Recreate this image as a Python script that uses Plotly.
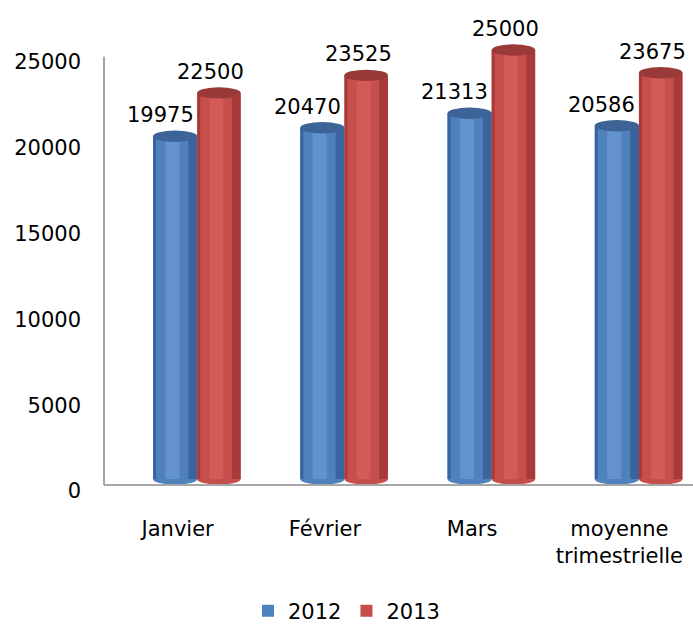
import plotly.graph_objects as go

categories = ["Janvier", "Février", "Mars", "moyenne<br>trimestrielle"]
series_names = ["2012", "2013"]
values_2012 = [19975, 20470, 21313, 20586]
values_2013 = [22500, 23525, 25000, 23675]
y_ticks = [0, 5000, 10000, 15000, 20000, 25000]
y_tick_labels = ["0", "5000", "10000", "15000", "20000", "25000"]

FONT = "DejaVu Sans"
FS = 21
AXIS_COL = "#A6A6A6"

series = [
    dict(name=series_names[0], vals=values_2012, offset=-0.167, width=0.30,
         edge="#3A64A0", mid="#4F81BD", light="#6492CE", top="#3C6496", lx=-15),
    dict(name=series_names[1], vals=values_2013, offset=0.133, width=0.295,
         edge="#A83B39", mid="#C64F4C", light="#D25B58", top="#9A3A38", lx=-8),
]

idx = list(range(len(categories)))
fig = go.Figure()
shapes = []
annotations = []
ell = 330  # half-height of the cylinder ellipses, in value units

for s in series:
    fig.add_trace(go.Bar(x=categories, y=s["vals"], name=s["name"], yaxis="y2",
                         offset=s["offset"], width=s["width"],
                         marker=dict(color=s["mid"], line=dict(width=0)),
                         legendgroup=s["name"], showlegend=True, hoverinfo="skip"))
    fig.add_trace(go.Bar(x=categories, y=s["vals"], yaxis="y2",
                         offset=s["offset"] + s["width"] * 0.80, width=s["width"] * 0.20,
                         marker=dict(color=s["edge"], line=dict(width=0)),
                         legendgroup=s["name"], showlegend=False, hoverinfo="skip"))
    fig.add_trace(go.Bar(x=categories, y=s["vals"], yaxis="y2",
                         offset=s["offset"] + s["width"] * 0.28, width=s["width"] * 0.32,
                         marker=dict(color=s["light"], line=dict(width=0)),
                         legendgroup=s["name"], showlegend=False, hoverinfo="skip"))
    fig.add_trace(go.Bar(x=categories, y=s["vals"], yaxis="y2",
                         offset=s["offset"], width=s["width"] * 0.07,
                         marker=dict(color=s["edge"], line=dict(width=0)),
                         legendgroup=s["name"], showlegend=False, hoverinfo="skip"))
    for i, v in zip(idx, s["vals"]):
        x0 = i + s["offset"]
        x1 = x0 + s["width"]
        shapes.append(dict(type="circle", xref="x", yref="y2", x0=x0, x1=x1,
                           y0=v - ell, y1=v + ell, fillcolor=s["top"],
                           line=dict(width=0), layer="above"))
        shapes.append(dict(type="circle", xref="x", yref="y2", x0=x0, x1=x1,
                           y0=-ell, y1=ell, fillcolor=s["mid"],
                           line=dict(width=0), layer="below"))
        annotations.append(dict(x=(x0 + x1) / 2, y=v, xref="x", yref="y2",
                                text=str(v), showarrow=False, yanchor="bottom",
                                xshift=s["lx"], yshift=7,
                                font=dict(family=FONT, size=FS, color="#000000")))

# value axis line and floor line (3D back wall look of the source)
shapes.append(dict(type="line", xref="paper", yref="y", x0=0, x1=0, y0=350, y1=25300,
                   line=dict(color=AXIS_COL, width=2)))
shapes.append(dict(type="line", xref="paper", yref="y", x0=0, x1=1, y0=350, y1=350,
                   line=dict(color=AXIS_COL, width=2)))

fig.update_layout(
    width=693, height=626,
    margin=dict(l=104, r=0, t=40, b=135),
    paper_bgcolor="white", plot_bgcolor="white",
    barmode="overlay",
    font=dict(family=FONT, size=FS, color="#000000"),
    xaxis=dict(type="category", range=[-0.5, 3.5], showline=False,
               ticks="", showgrid=False, ticklabelstandoff=23, zeroline=False,
               tickfont=dict(family=FONT, size=FS)),
    yaxis=dict(range=[0, 26282], tickvals=y_ticks, ticktext=y_tick_labels,
               showgrid=False, showline=False,
               zeroline=False, ticks="", ticklabelstandoff=22,
               tickfont=dict(family=FONT, size=FS)),
    yaxis2=dict(overlaying="y", range=[-700, 25582], visible=False),
    legend=dict(orientation="h", xref="container", yref="container", x=0.5, y=0.024,
                xanchor="center", yanchor="middle", font=dict(family=FONT, size=FS),
                itemwidth=30, traceorder="normal"),
    shapes=shapes, annotations=annotations,
)

fig.write_html("out.html", config={"displayModeBar": False},
               post_script="document.body.style.margin='0';")
